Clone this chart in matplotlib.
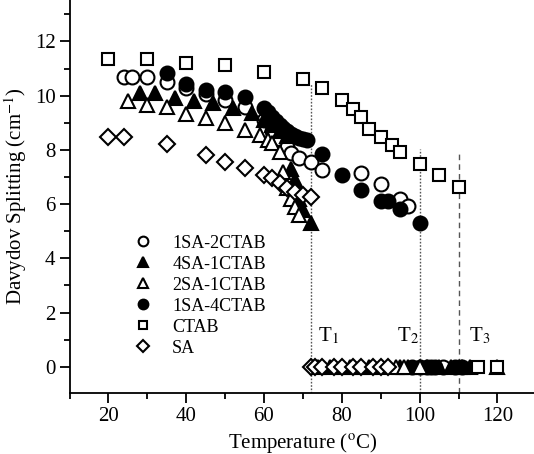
import matplotlib
matplotlib.use("Agg")
import matplotlib.pyplot as plt
from matplotlib.ticker import MultipleLocator

plt.rcParams['font.family'] = ['Liberation Serif', 'DejaVu Serif']
plt.rcParams['mathtext.fontset'] = 'stix'

# ---- data ----
labels = ["1SA-2CTAB", "4SA-1CTAB", "2SA-1CTAB", "1SA-4CTAB", "CTAB", "SA"]

t_1sa2ctab = [24, 26, 30, 35, 40, 45, 50, 55, 60, 62, 64, 66, 67, 69, 72, 75, 85, 90, 95, 97,
              100, 103, 106]
d_1sa2ctab = [10.7, 10.7, 10.7, 10.5, 10.3, 10.05, 9.84, 9.58, 9.1, 8.7, 8.4, 8.1, 7.87, 7.69, 7.55, 7.25,
              7.14, 6.74, 6.2, 5.93, 0, 0, 0]

t_4sa1ctab = [28, 32, 37, 42, 47, 52, 57, 60, 62, 64, 66, 67, 68, 69, 70, 72,
              74, 77, 80, 82, 85, 87, 90, 95, 97, 100, 102, 105, 108, 110, 111, 113, 120]
d_4sa1ctab = [10.1, 10.1, 9.9, 9.82, 9.72, 9.53, 9.35, 9.1, 8.9, 8.7, 8.5, 7.3, 6.9, 6.2, 5.8, 5.3,
              0, 0, 0, 0, 0, 0, 0, 0, 0, 0, 0, 0, 0, 0, 0, 0, 0]

t_2sa1ctab = [25, 30, 35, 40, 45, 50, 55, 59, 61, 62, 64, 65, 66, 67, 68, 69, 94, 96, 100]
d_2sa1ctab = [9.8, 9.66, 9.57, 9.33, 9.17, 8.98, 8.73, 8.55, 8.37, 8.24, 7.93, 7.2, 6.6, 6.2, 5.9, 5.6,
              0, 0, 0]

t_1sa4ctab = [35, 40, 45, 50, 55, 60, 61, 62, 63, 64, 65, 66, 67, 68, 69, 70, 71, 75, 80, 85, 90, 92, 95, 100,
              98, 102, 104, 109, 111]
d_1sa4ctab = [10.83, 10.42, 10.21, 10.15, 9.96, 9.55, 9.4, 9.2, 9.05, 8.9, 8.8, 8.7, 8.6, 8.5, 8.45, 8.4, 8.35,
              7.85, 7.07, 6.53, 6.13, 6.13, 5.83, 5.32,
              0, 0, 0, 0, 0]

t_ctab = [20, 30, 40, 50, 60, 70, 75, 80, 83, 85, 87, 90, 93, 95, 100, 105, 110, 115, 120]
d_ctab = [11.35, 11.35, 11.22, 11.13, 10.88, 10.6, 10.3, 9.83, 9.52, 9.2, 8.77, 8.46, 8.18, 7.92,
          7.48, 7.07, 6.64, 0, 0]

t_sa = [20, 24, 35, 45, 50, 55, 60, 62, 64, 66, 68, 70, 72, 72, 73, 75, 78, 80, 83, 85, 88, 90, 92]
d_sa = [8.49, 8.49, 8.22, 7.8, 7.56, 7.32, 7.07, 6.95, 6.77, 6.6, 6.46, 6.35, 6.26, 0, 0, 0, 0, 0, 0, 0, 0, 0, 0]

transitions = [72, 100, 110]
trans_tops = [10.45, 8.05, 7.93]
trans_styles = [(0, (1.2, 1.2)), (0, (1.2, 1.2)), (0, (4, 3))]
trans_labels = ["T$_1$", "T$_2$", "T$_3$"]
trans_label_x = [74, 94.2, 112.6]

# ---- figure ----
fig = plt.figure(figsize=(5.34, 4.54), dpi=100)
ax = fig.add_axes([69.5 / 534, 61 / 454, 120 * 3.89 / 534, 393 / 454])

ms = 10
mew = 1.5
series = [
    (t_1sa2ctab, d_1sa2ctab, 'o', 'white', ms, 1),
    (t_4sa1ctab, d_4sa1ctab, '^', 'black', ms, 2),
    (t_2sa1ctab, d_2sa1ctab, '^', 'white', ms, 4),
    (t_1sa4ctab, d_1sa4ctab, 'o', 'black', ms, 3),
    (t_ctab, d_ctab, 's', 'white', 8.5, 5),
    (t_sa, d_sa, 'D', 'white', 8.2, 6),
]
handles = []
for (t, d, mk, fc, size, z), lab in zip(series, labels):
    h, = ax.plot(t, d, linestyle='none', marker=mk, markersize=size, markerfacecolor=fc,
                 markeredgecolor='black', markeredgewidth=mew, label=lab, zorder=z)
    handles.append(h)

for xv, top, ls, lab, lx in zip(transitions, trans_tops, trans_styles, trans_labels, trans_label_x):
    ax.plot([xv, xv], [-0.97, top], color='#555555', linewidth=1.0, linestyle=ls, zorder=0.5)
    ax.text(lx, 0.75, lab, fontsize=15, ha='left', va='bottom')

ax.set_xlim(10, 130)
ax.set_ylim(-0.97, 13.53)
ax.xaxis.set_major_locator(MultipleLocator(20))
ax.xaxis.set_minor_locator(MultipleLocator(10))
ax.yaxis.set_major_locator(MultipleLocator(2))
ax.yaxis.set_minor_locator(MultipleLocator(1))
ax.tick_params(which='both', direction='out', width=1.3, labelsize=15)
ax.tick_params(which='major', length=7, pad=3)
ax.tick_params(which='minor', length=4)
for s in ['top', 'right']:
    ax.spines[s].set_visible(False)
for s in ['left', 'bottom']:
    ax.spines[s].set_linewidth(1.3)

ax.set_xlabel("Temperature ($^{\\rm o}$C)", fontsize=15, labelpad=4)
ax.set_ylabel("Davydov Splitting (cm$^{-1}$)", fontsize=15, labelpad=4)

ax.legend(handles=handles, loc='upper left', bbox_to_anchor=(0.1, 0.444), frameon=False,
          fontsize=13, markerscale=0.7, labelspacing=0.22, handletextpad=1.0, handlelength=1.2)

fig.savefig("out.png", dpi=100)
